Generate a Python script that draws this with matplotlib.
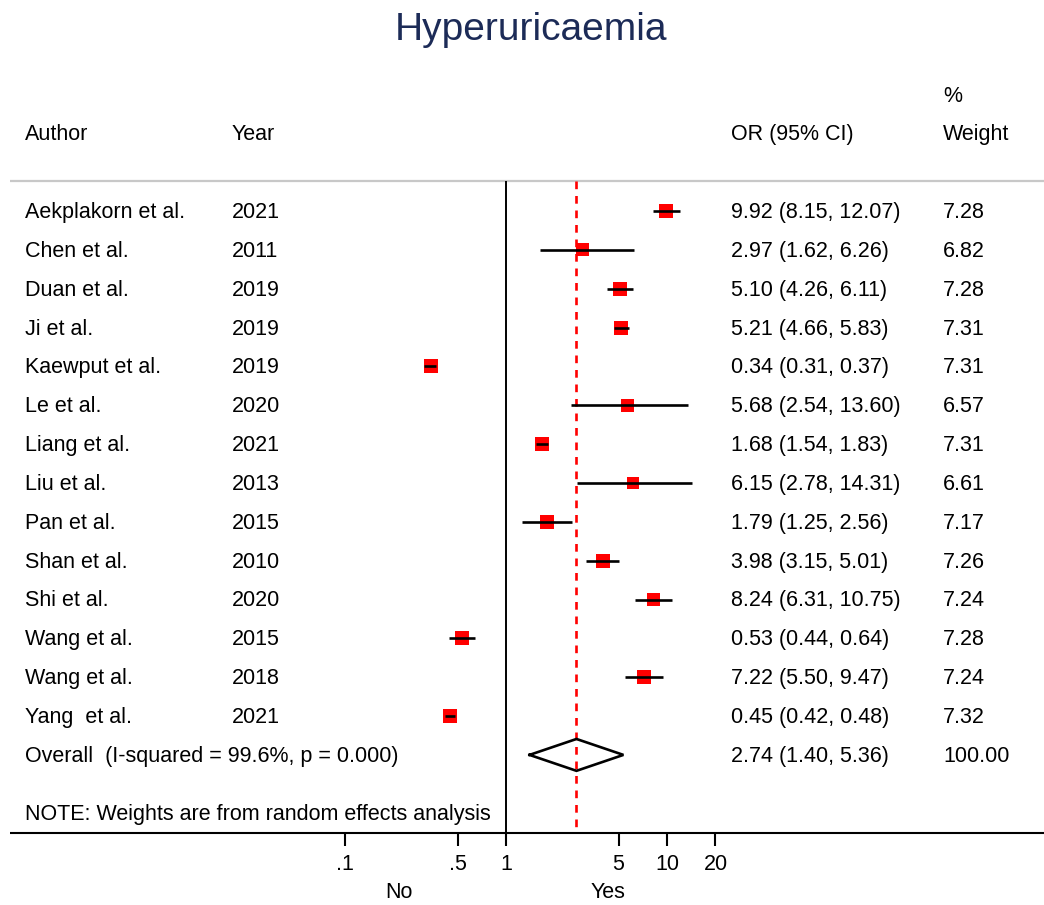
import matplotlib
matplotlib.use("Agg")
import matplotlib.pyplot as plt
from matplotlib.transforms import blended_transform_factory
import numpy as np

plt.rcParams['font.family'] = ['Liberation Sans', 'DejaVu Sans']

# Study-level data
authors = ["Aekplakorn et al.", "Chen et al.", "Duan et al.", "Ji et al.",
           "Kaewput et al.", "Le et al.", "Liang et al.", "Liu et al.",
           "Pan et al.", "Shan et al.", "Shi et al.", "Wang et al.",
           "Wang et al.", "Yang  et al."]
years = [2021, 2011, 2019, 2019, 2019, 2020, 2021, 2013, 2015, 2010, 2020,
         2015, 2018, 2021]
or_est = [9.92, 2.97, 5.10, 5.21, 0.34, 5.68, 1.68, 6.15, 1.79, 3.98, 8.24,
          0.53, 7.22, 0.45]
ci_low = [8.15, 1.62, 4.26, 4.66, 0.31, 2.54, 1.54, 2.78, 1.25, 3.15, 6.31,
          0.44, 5.50, 0.42]
ci_high = [12.07, 6.26, 6.11, 5.83, 0.37, 13.60, 1.83, 14.31, 2.56, 5.01,
           10.75, 0.64, 9.47, 0.48]
weights = [7.28, 6.82, 7.28, 7.31, 7.31, 6.57, 7.31, 6.61, 7.17, 7.26, 7.24,
           7.28, 7.24, 7.32]

# Pooled (random effects) estimate
overall_label = "Overall  (I-squared = 99.6%, p = 0.000)"
overall_or = 2.74
overall_low = 1.40
overall_high = 5.36
overall_weight = 100.00

tick_values = [0.1, 0.5, 1, 5, 10, 20]
tick_labels = [".1", ".5", "1", "5", "10", "20"]

W, H = 1044, 905
fig = plt.figure(figsize=(W / 100, H / 100), dpi=100)
ax = fig.add_axes([0, 0, 1, 1])
ax.set_xscale("log")
# horizontal layout: log10(OR) -> pixel 506 + 161*log10(OR)
x0, dec = 506.0, 161.0
ax.set_xlim(10 ** ((0 - x0) / dec), 10 ** ((W - x0) / dec))
# vertical layout: row r -> pixel 211 + 38.85*r
y0, step = 211.0, 38.85
ax.set_ylim((H - y0) / step, (0 - y0) / step)
ax.axis("off")

def fx(px):
    return px / W

tr = blended_transform_factory(ax.transAxes, ax.transData)
fs = 15.5
n = len(authors)
rows = np.arange(n)
overall_row = n
note_row = n + 1.5
axis_row = 16.0
top_row = -0.77

# frame lines
ax.plot([fx(10), 1], [top_row, top_row], transform=tr, color="#c8c8c8",
        lw=1.6, solid_capstyle="butt", zorder=1)
ax.plot([fx(10), 1], [axis_row, axis_row], transform=tr, color="black",
        lw=1.5, solid_capstyle="butt", zorder=3)
ax.vlines(1, top_row, axis_row, color="black", lw=1.4, zorder=2)
ax.vlines(overall_or, top_row, axis_row, color="#ff0000", lw=1.9,
          linestyles=(0, (7.7 * 0.72 / 1.9, 6.8 * 0.72 / 1.9)), zorder=2)

# study boxes and confidence intervals
side_pts = 14 * 0.72 * np.array(weights) / 7.28
ax.scatter(or_est, rows, marker="s", s=side_pts ** 2, color="#ff0000",
           linewidths=0, zorder=4)
ax.hlines(rows, ci_low, ci_high, color="black", lw=1.9, zorder=5)

# pooled diamond
dh = 0.41
ax.plot([overall_low, overall_or, overall_high, overall_or, overall_low],
        [overall_row, overall_row - dh, overall_row, overall_row + dh, overall_row],
        color="black", lw=1.9, zorder=5, solid_joinstyle="miter")

# table text
base = 0.18
for i in range(n):
    ax.text(fx(25), i + base, authors[i], transform=tr, fontsize=fs, va="baseline")
    ax.text(fx(232), i + base, str(years[i]), transform=tr, fontsize=fs, va="baseline")
    ax.text(fx(731), i + base,
            f"{or_est[i]:.2f} ({ci_low[i]:.2f}, {ci_high[i]:.2f})",
            transform=tr, fontsize=fs, va="baseline")
    ax.text(fx(943), i + base, f"{weights[i]:.2f}", transform=tr, fontsize=fs,
            va="baseline")

ax.text(fx(25), overall_row + base, overall_label, transform=tr, fontsize=fs,
        va="baseline")
ax.text(fx(731), overall_row + base,
        f"{overall_or:.2f} ({overall_low:.2f}, {overall_high:.2f})",
        transform=tr, fontsize=fs, va="baseline")
ax.text(fx(943), overall_row + base, f"{overall_weight:.2f}", transform=tr,
        fontsize=fs, va="baseline")
ax.text(fx(25), note_row + base, "NOTE: Weights are from random effects analysis",
        transform=tr, fontsize=fs, va="baseline")

# headers
hdr = (140 - y0) / step
ax.text(fx(25), hdr, "Author", transform=tr, fontsize=fs, va="baseline")
ax.text(fx(232), hdr, "Year", transform=tr, fontsize=fs, va="baseline")
ax.text(fx(731), hdr, "OR (95% CI)", transform=tr, fontsize=fs, va="baseline")
ax.text(fx(943), hdr, "Weight", transform=tr, fontsize=fs, va="baseline")
ax.text(fx(943), (102 - y0) / step, "%", transform=tr, fontsize=fs, va="baseline")

# title
ax.text(fx(531), (40 - y0) / step, "Hyperuricaemia", transform=tr, fontsize=28,
        color="#1c2b57", ha="center", va="baseline")

# x axis ticks and labels
tick_len = 13 / step
ax.vlines(tick_values, axis_row, axis_row + tick_len, color="black", lw=1.5,
          zorder=3)
for v, lab in zip(tick_values, tick_labels):
    ax.text(v, (870 - y0) / step, lab, fontsize=fs, ha="center", va="baseline")
ax.text(10 ** ((399 - x0) / dec), (898 - y0) / step, "No", fontsize=fs,
        ha="center", va="baseline")
ax.text(10 ** ((608 - x0) / dec), (898 - y0) / step, "Yes", fontsize=fs,
        ha="center", va="baseline")

fig.savefig("out.png", dpi=100, facecolor="white")
